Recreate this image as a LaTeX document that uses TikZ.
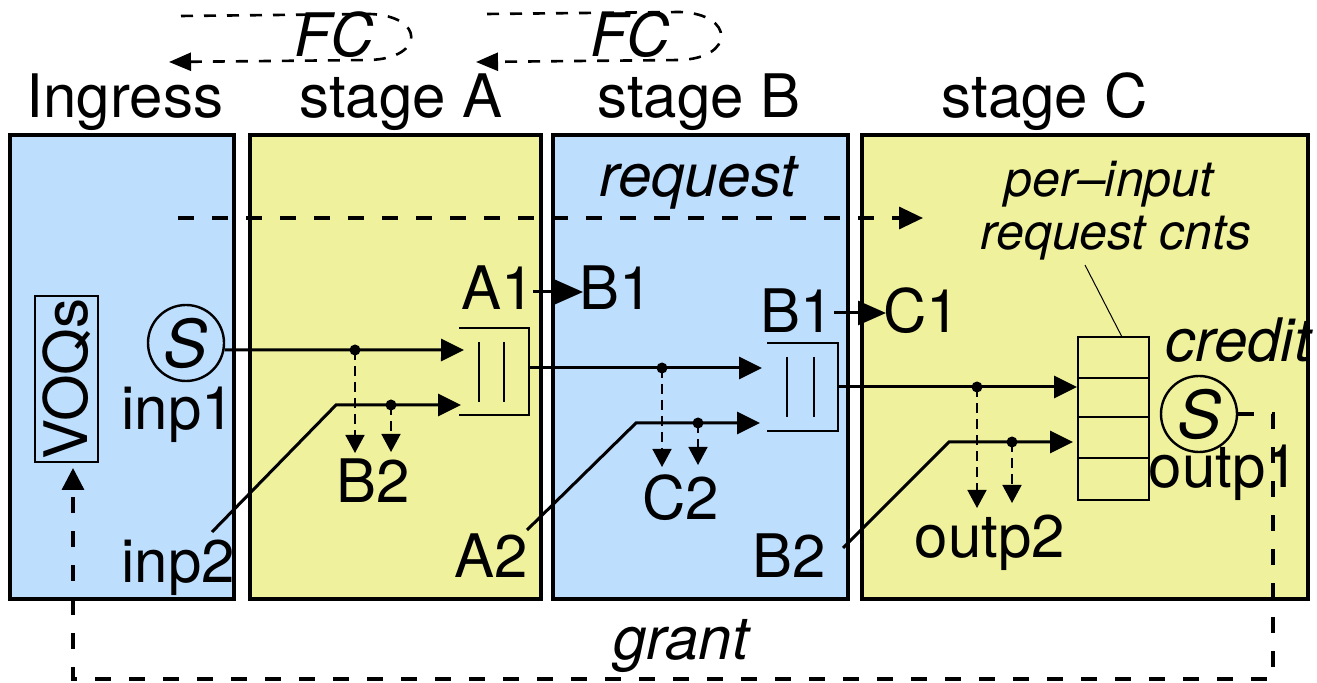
\documentclass[tikz,border=0pt]{standalone}
\usepackage{fontspec}
\setmainfont{TeX Gyre Heros}
\usetikzlibrary{arrows.meta}
\definecolor{panelblue}{RGB}{190,222,254}
\definecolor{panelyellow}{RGB}{239,241,157}
\begin{document}
\begin{tikzpicture}[x=0.5pt,y=-0.5pt,
  panel/.style={draw=black,line width=1.6pt},
  lbl/.style={inner sep=0pt,anchor=base,font=\fontsize{30}{36}\selectfont},
  ilbl/.style={inner sep=0pt,anchor=base,font=\fontsize{30}{36}\selectfont\itshape},
  slbl/.style={inner sep=0pt,anchor=base,font=\fontsize{25}{30}\selectfont\itshape},
  flow/.style={line width=1.5pt,-{Triangle[length=11.5pt,width=11pt]}},
  hop/.style={line width=1.5pt,-{Triangle[length=14pt,width=12pt]}},
  tap/.style={line width=0.8pt,dash pattern=on 5pt off 3pt,-{Triangle[length=9pt,width=9.5pt]}},
  ctrl/.style={line width=1.7pt,dash pattern=on 8pt off 9pt},
  fcarrow/.style={line width=1.3pt,dash pattern=on 6pt off 5.5pt,-{Triangle[length=11pt,width=9pt]}},
  dotn/.style={circle,fill=black,inner sep=0pt,minimum size=5.5pt},
  sched/.style={circle,draw=black,line width=1.2pt,inner sep=0pt,minimum size=38pt,font=\fontsize{33}{40}\selectfont\itshape},
  qline/.style={line width=1.3pt},
  qin/.style={line width=0.6pt}]
\useasboundingbox (0,0) rectangle (1317,683);

% panels
\draw[panel,fill=panelblue]   (10,135) rectangle (234,599);
\draw[panel,fill=panelyellow] (250,135) rectangle (541,599);
\draw[panel,fill=panelblue]   (553,135) rectangle (848,599);
\draw[panel,fill=panelyellow] (862,135) rectangle (1308,599);

% stage labels
\node[lbl] (ing) at (125,118) {Ingress};
\node[lbl] (sa) at (401,118) {stage A};
\node[lbl] (sb) at (699,118) {stage B};
\node[lbl] (sc) at (1045,118) {stage C};

% flow control loops
\coordinate (fc1s) at (181,16);
\coordinate (fc1e) at (169,62);
\draw[fcarrow] (fc1s) -- (370,14) .. controls (425,16) and (425,58) .. (370,60) -- (fc1e);
\node[ilbl] (fc1) at (334,57) {FC};
\coordinate (fc2s) at (487,14);
\coordinate (fc2e) at (476,62);
\draw[fcarrow] (fc2s) -- (680,12) .. controls (735,14) and (735,58) .. (680,60) -- (fc2e);
\node[ilbl] (fc2) at (630,57) {FC};

% request
\node[ilbl] (req) at (698,197) {request};
\coordinate (reqs) at (178,218);
\coordinate (reqe) at (923,218);
\draw[ctrl,-{Triangle[length=12pt,width=11pt]}] (reqs) -- (reqe);

% ingress
\node[draw,line width=1pt,rotate=90,minimum width=83pt,minimum height=31.5pt,inner sep=0pt,
      font=\fontsize{30}{36}\selectfont] (voq) at (66.5,379) {VOQs};
\node[sched] (s1) at (186,343) {S};
\node[lbl] (inp1) at (178,430) {inp1};
\node[lbl] (inp2) at (178,583) {inp2};

% stage A
\draw[qline] (459,328) -- (529,328) -- (529,415) -- (459,415);
\draw[qin] (479,342) -- (479,402) (504,342) -- (504,402);
\coordinate (qAin1) at (464,350);
\coordinate (qAin2) at (461,405);
\coordinate (i2s) at (212,532);
\coordinate (i2b) at (336,405);
\draw[flow] (s1.-10) -- (qAin1);
\draw[flow] (i2s) -- (i2b) -- (qAin2);
\node[dotn] (dA1) at (355,350) {};
\node[dotn] (dA2) at (391,405) {};
\coordinate (tA1) at (355,453);
\coordinate (tA2) at (391,452);
\draw[tap] (dA1.center) -- (tA1);
\draw[tap] (dA2.center) -- (tA2);
\node[lbl] (b2a) at (373,503) {B2};
\node[lbl] (a1) at (498,310) {A1};
\node[lbl] (b1a) at (616,310) {B1};
\coordinate (a1s) at (533,292);
\coordinate (a1e) at (583,292);
\draw[hop] (a1s) -- (a1e);
\node[lbl] (a2) at (491,578) {A2};

% stage B
\draw[qline] (767,343) -- (838,343) -- (838,431) -- (767,431);
\draw[qin] (787,357) -- (787,417) (814,357) -- (814,417);
\coordinate (qAout) at (529,368);
\coordinate (qBin1) at (762,368);
\coordinate (a2s) at (527,530);
\coordinate (a2b) at (636,423);
\coordinate (qBin2) at (760,423);
\draw[flow] (qAout) -- (qBin1);
\draw[flow] (a2s) -- (a2b) -- (qBin2);
\node[dotn] (dB1) at (662,368) {};
\node[dotn] (dB2) at (698,423) {};
\coordinate (tB1) at (662,467);
\coordinate (tB2) at (698,465);
\draw[tap] (dB1.center) -- (tB1);
\draw[tap] (dB2.center) -- (tB2);
\node[lbl] (c2) at (681,520) {C2};
\node[lbl] (b1b) at (797,333) {B1};
\node[lbl] (c1) at (922,333) {C1};
\coordinate (b1s) at (834,313);
\coordinate (b1e) at (886,313);
\draw[hop] (b1s) -- (b1e);
\node[lbl] (b2b) at (789,578) {B2};

% stage C
\node[draw,line width=1.3pt,minimum width=35.5pt,minimum height=81.5pt,inner sep=0pt] (cnt) at (1113.5,418.5) {};
\draw[line width=0.6pt] (1078,378) -- (1149,378) (1078,417) -- (1149,417) (1078,458) -- (1149,458);
\coordinate (qBout) at (838,387);
\coordinate (cin1) at (1077,387);
\coordinate (b2s) at (843,548);
\coordinate (b2bend) at (949,442);
\coordinate (cin2) at (1073,442);
\draw[flow] (qBout) -- (cin1);
\draw[flow] (b2s) -- (b2bend) -- (cin2);
\node[dotn] (dC1) at (977,387) {};
\node[dotn] (dC2) at (1012,442) {};
\coordinate (tC1) at (977,508);
\coordinate (tC2) at (1012,503);
\draw[tap] (dC1.center) -- (tC1);
\draw[tap] (dC2.center) -- (tC2);
\node[lbl] (outp2) at (990,558) {outp2};
\node[slbl] (pi1) at (1109,197) {per–input};
\node[slbl] (pi2) at (1116,250) {request cnts};
\coordinate (lead) at (1085,265);
\coordinate (leadend) at (1122,337);
\draw[line width=0.5pt] (lead) -- (leadend);
\node[ilbl] (credit) at (1238,362) {credit};
\node[sched] (s2) at (1199,414) {S};
\node[lbl] (outp1) at (1224,488) {outp1};

% grant
\coordinate (g1) at (1273,414);
\coordinate (g2) at (1273,679);
\coordinate (g3) at (73,679);
\coordinate (gend) at (73,468);
\draw[ctrl,-{Triangle[length=11pt,width=11pt]}] (s2.east) -- (g1) -- (g2) -- (g3) -- (gend);
\node[ilbl] (grant) at (681,660) {grant};
\end{tikzpicture}
\end{document}
